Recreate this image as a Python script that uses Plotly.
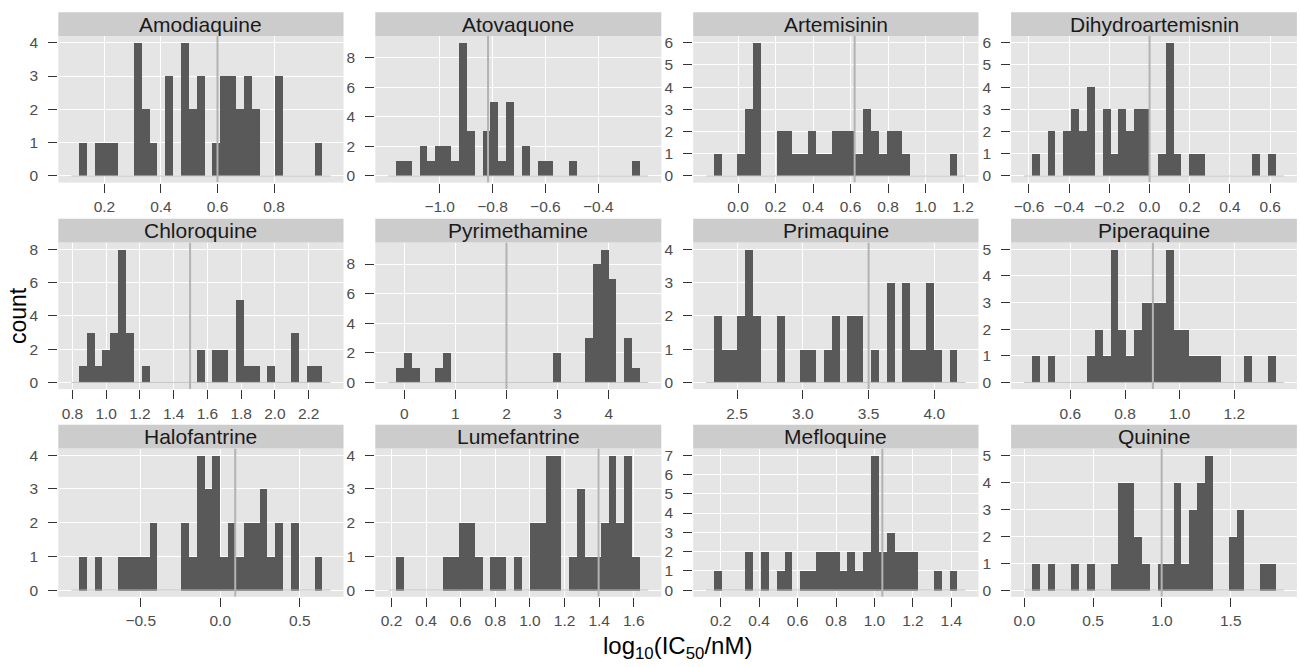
import plotly.graph_objects as go

W, H = 1300, 667

drugs = ["Amodiaquine", "Atovaquone", "Artemisinin", "Dihydroartemisnin",
         "Chloroquine", "Pyrimethamine", "Primaquine", "Piperaquine",
         "Halofantrine", "Lumefantrine", "Mefloquine", "Quinine"]

# left edge of first histogram bin and bin width (log10 IC50 units)
bin_start = [0.1104, -1.1646, -0.128, -0.5851, 0.8395, -0.157,
             2.3252, 0.4598, -0.887, 0.227, 0.1653, 0.0557]
bin_width = [0.0278, 0.02981, 0.04192, 0.03917, 0.04656, 0.1541,
             0.05974, 0.02879, 0.04937, 0.04553, 0.04089, 0.0572]
# grey reference line per drug
ref_line = [0.6, -0.817, 0.622, 0.0, 1.497, 2.0, 3.5, 0.902, 0.094, 1.397, 1.041, 0.998]

counts_amodiaquine = [1,0,1,1,1,0,0,4,2,1,0,3,0,4,2,3,0,1,3,3,2,3,2,0,0,3,0,0,0,0,1]
counts_atovaquone = [1,1,0,2,1,2,2,1,9,3,0,3,5,1,5,0,2,0,1,1,0,0,1,0,0,0,0,0,0,0,1]
counts_artemisinin = [1,0,0,1,3,6,0,0,2,2,1,1,2,1,1,2,2,2,1,3,2,1,2,2,1,0,0,0,0,0,1]
counts_dihydroartemisnin = [1,0,2,0,2,3,2,4,0,3,1,3,2,3,3,0,1,6,1,0,1,1,0,0,0,0,0,0,1,0,1]
counts_chloroquine = [1,3,1,2,3,8,3,0,1,0,0,0,0,0,0,2,0,2,2,0,5,1,1,0,1,0,0,3,0,1,1]
counts_pyrimethamine = [1,2,1,0,0,1,2,0,0,0,0,0,0,0,0,0,0,0,0,0,2,0,0,0,3,8,9,7,0,3,1]
counts_primaquine = [2,1,1,2,4,2,0,0,2,0,0,1,1,0,1,2,0,2,2,0,1,0,3,0,3,1,1,3,1,0,1]
counts_piperaquine = [1,0,1,0,0,0,0,1,2,1,5,2,1,2,3,3,3,5,2,2,1,1,1,1,0,0,0,1,0,0,1]
counts_halofantrine = [1,0,1,0,0,1,1,1,1,2,0,0,0,2,1,4,3,4,1,2,1,2,2,3,1,2,0,2,0,0,1]
counts_lumefantrine = [1,0,0,0,0,0,1,1,2,2,1,0,1,1,0,1,0,2,2,4,4,0,1,3,1,1,2,4,2,4,1]
counts_mefloquine = [1,0,0,0,2,0,2,0,1,2,0,1,1,2,2,2,1,2,1,2,7,2,3,2,2,2,0,0,1,0,1]
counts_quinine = [1,0,1,0,0,1,0,1,0,0,1,4,4,2,1,0,1,1,4,1,3,4,5,0,0,2,3,0,0,1,1]

all_counts = [counts_amodiaquine, counts_atovaquone, counts_artemisinin,
              counts_dihydroartemisnin, counts_chloroquine, counts_pyrimethamine,
              counts_primaquine, counts_piperaquine, counts_halofantrine,
              counts_lumefantrine, counts_mefloquine, counts_quinine]

x_ticks = [
    [0.2, 0.4, 0.6, 0.8],
    [-1.0, -0.8, -0.6, -0.4],
    [0.0, 0.2, 0.4, 0.6, 0.8, 1.0, 1.2],
    [-0.6, -0.4, -0.2, 0.0, 0.2, 0.4, 0.6],
    [0.8, 1.0, 1.2, 1.4, 1.6, 1.8, 2.0, 2.2],
    [0, 1, 2, 3, 4],
    [2.5, 3.0, 3.5, 4.0],
    [0.6, 0.8, 1.0, 1.2],
    [-0.5, 0.0, 0.5],
    [0.2, 0.4, 0.6, 0.8, 1.0, 1.2, 1.4, 1.6],
    [0.2, 0.4, 0.6, 0.8, 1.0, 1.2, 1.4],
    [0.0, 0.5, 1.0, 1.5],
]
x_tick_decimals = [1, 1, 1, 1, 1, 0, 1, 1, 1, 1, 1, 1]
y_tick_step = [1, 2, 1, 1, 2, 2, 1, 1, 1, 1, 1, 1]

# panel placement (pixels)
col_px = [(58.3, 343.5), (375.3, 661.3), (693.2, 978.5), (1011.1, 1296.9)]
row_px = [(34.3, 181.7), (242.0, 389.4), (449.2, 598.4)]
strip_h = 24

BAR = "#595959"
FONT = "Liberation Sans, Arial, sans-serif"

fig = go.Figure()
shapes = []
annotations = []

for i, name in enumerate(drugs):
    r, c = divmod(i, 4)
    ax = "" if i == 0 else str(i + 1)
    xa, ya = "x" + ax, "y" + ax
    counts = all_counts[i]
    lo, w = bin_start[i], bin_width[i]
    n = len(counts)
    centers = [lo + (k + 0.5) * w for k in range(n)]
    ext_lo, ext_hi = lo - w, lo + (n + 1) * w
    pad = 0.05 * (ext_hi - ext_lo)
    xr = [ext_lo - pad, ext_hi + pad]
    ymax = max(counts)
    yr = [-0.05 * ymax, 1.05 * ymax]

    fig.add_trace(go.Scatter(x=[ext_lo, ext_hi], y=[0, 0], mode="lines",
                             line=dict(color="#c4c4c4", width=1),
                             xaxis=xa, yaxis=ya, hoverinfo="skip", showlegend=False))
    fig.add_trace(go.Bar(x=centers, y=counts, width=[w] * n,
                         marker=dict(color=BAR, line=dict(width=0)),
                         xaxis=xa, yaxis=ya, showlegend=False))
    fig.add_trace(go.Scatter(x=[ref_line[i], ref_line[i]], y=yr, mode="lines",
                             line=dict(color="#b3b3b3", width=2),
                             xaxis=xa, yaxis=ya, hoverinfo="skip", showlegend=False))

    x0, x1 = col_px[c]
    y0, y1 = row_px[r]
    dec = x_tick_decimals[i]
    ttext = [f"{v:.{dec}f}".replace("-", "\u2212") for v in x_ticks[i]]
    yvals = list(range(0, ymax + 1, y_tick_step[i]))

    common = dict(showgrid=True, gridcolor="white", gridwidth=1, zeroline=False,
                  showline=False, ticks="outside", ticklen=9, tickwidth=1,
                  tickcolor="#333333", tickfont=dict(size=15.5, color="#4d4d4d", family=FONT))
    fig.update_layout(**{
        ("xaxis" + ax): dict(domain=[x0 / W, x1 / W], anchor=ya, range=xr,
                             tickmode="array", tickvals=x_ticks[i], ticktext=ttext,
                             ticklabelstandoff=1, **common),
        ("yaxis" + ax): dict(domain=[1 - y1 / H, 1 - y0 / H], anchor=xa, range=yr,
                             tickmode="array", tickvals=yvals,
                             ticktext=[str(v) for v in yvals],
                             ticklabelstandoff=7, **common),
    })

    shapes.append(dict(type="rect", xref="paper", yref="paper",
                       x0=x0 / W, x1=x1 / W, y0=1 - y0 / H, y1=1 - (y0 - strip_h) / H,
                       fillcolor="#cccccc", line=dict(width=0), layer="below"))
    annotations.append(dict(text=name, xref="paper", yref="paper",
                            x=(x0 + x1) / 2 / W, y=1 - (y0 - strip_h / 2) / H,
                            xanchor="center", yanchor="middle", showarrow=False,
                            font=dict(size=21, color="#1a1a1a", family=FONT)))

annotations.append(dict(text="count", xref="paper", yref="paper",
                        x=18 / W, y=1 - 316 / H, textangle=-90,
                        xanchor="center", yanchor="middle", showarrow=False,
                        font=dict(size=23, color="black", family=FONT)))
annotations.append(dict(text="log<sub>10</sub>(IC<sub>50</sub>/nM)", xref="paper", yref="paper",
                        x=677 / W, y=1 - 649 / H,
                        xanchor="center", yanchor="middle", showarrow=False,
                        font=dict(size=24, color="black", family=FONT)))

fig.update_layout(width=W, height=H, margin=dict(l=0, r=0, t=0, b=0),
                  paper_bgcolor="white", plot_bgcolor="#e5e5e5",
                  barmode="overlay", bargap=0, showlegend=False,
                  shapes=shapes, annotations=annotations,
                  font=dict(family=FONT))

fig.write_html("out.html", config={"displayModeBar": False},
               post_script="document.body.style.margin='0';document.body.style.overflow='hidden';")
